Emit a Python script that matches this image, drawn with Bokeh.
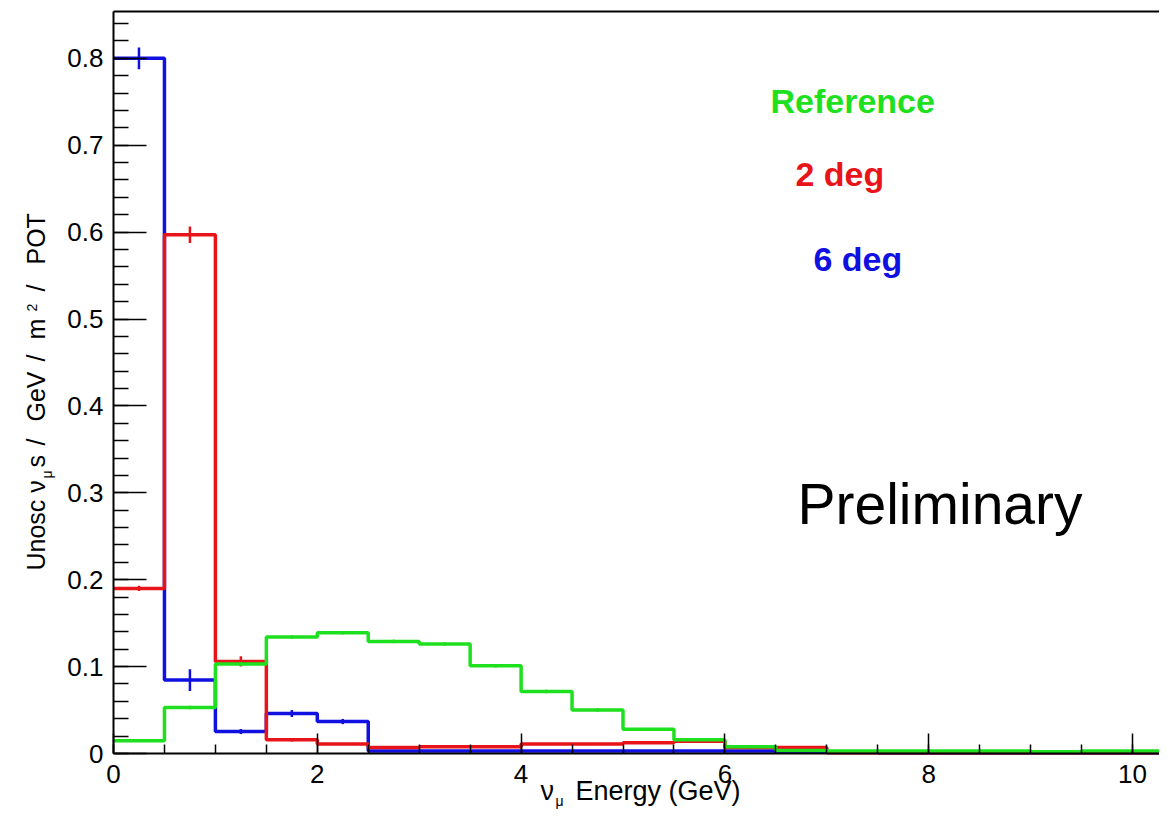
import math
from bokeh.plotting import figure
from bokeh.models import (Range1d, SingleIntervalTicker, FixedTicker, CustomJSTickFormatter,
                          Label, LinearAxis)
from bokeh.embed import file_html
from bokeh.resources import INLINE

# ---------------- data ----------------
bin_width = 0.5
bin_low = [0.0, 0.5, 1.0, 1.5, 2.0, 2.5, 3.0, 3.5, 4.0, 4.5, 5.0,
           5.5, 6.0, 6.5, 7.0, 7.5, 8.0, 8.5, 9.0, 9.5, 10.0]

reference = [0.0146, 0.053, 0.103, 0.134, 0.139, 0.129, 0.126, 0.101, 0.0714, 0.050, 0.028,
             0.0158, 0.0077, 0.0035, 0.003, 0.003, 0.003, 0.003, 0.002, 0.003, 0.003]
reference_err = [0.001, 0.002, 0.002, 0.002, 0.002, 0.002, 0.002, 0.002, 0.002, 0.002, 0.001,
                 0.001, 0.001, 0.0005, 0.0005, 0.0005, 0.0005, 0.0005, 0.0005, 0.0005, 0.0005]

deg2 = [0.190, 0.597, 0.106, 0.0158, 0.011, 0.007, 0.0077, 0.0077, 0.0108, 0.0108, 0.0123,
        0.014, 0.007, 0.007, 0.001, 0.001, 0.001, 0.001, 0.001, 0.001, 0.001]
deg2_err = [0.003, 0.0095, 0.006, 0.002, 0.001, 0.001, 0.001, 0.001, 0.001, 0.001, 0.001,
            0.001, 0.001, 0.001, 0.0005, 0.0005, 0.0005, 0.0005, 0.0005, 0.0005, 0.0005]

deg6 = [0.800, 0.0845, 0.0253, 0.046, 0.0368, 0.003, 0.003, 0.003, 0.003, 0.003, 0.003,
        0.003, 0.003, 0.0015, 0.0015, 0.001, 0.001, 0.001, 0.001, 0.001, 0.001]
deg6_err = [0.0125, 0.0125, 0.003, 0.004, 0.003, 0.0005, 0.0005, 0.0005, 0.0005, 0.0005, 0.0005,
            0.0005, 0.0005, 0.0005, 0.0005, 0.0005, 0.0005, 0.0005, 0.0005, 0.0005, 0.0005]

series_names = ["Reference", "2 deg", "6 deg"]

# ---------------- layout / styling ----------------
C_GREEN = "#1ee01e"
C_RED = "#e8141a"
C_BLUE = "#1010e0"
FONT = "Liberation Sans"

W, H = 1159, 809
ORIG_X, ORIG_Y = 113, 753          # pixel of the (0, 0) corner
PX_X, PX_Y = 101.9, 869.0          # pixels per GeV, pixels per unit
X0 = -ORIG_X / PX_X
X1 = (W - ORIG_X) / PX_X
Y1 = ORIG_Y / PX_Y
Y0 = -(H - ORIG_Y) / PX_Y
Y_TOP = (ORIG_Y - 11) / PX_Y       # top frame line

p = figure(width=W, height=H, output_backend="svg", toolbar_location=None,
           x_range=Range1d(X0, X1), y_range=Range1d(Y0, Y1),
           min_border=0, min_border_left=0, min_border_right=0,
           min_border_top=0, min_border_bottom=0,
           background_fill_color="white", border_fill_color="white")
p.outline_line_color = None
p.xgrid.grid_line_color = None
p.ygrid.grid_line_color = None

for ax in (p.xaxis[0], p.yaxis[0]):
    ax.fixed_location = 0
    ax.axis_line_width = 2
    ax.axis_line_color = "black"
    ax.major_tick_line_color = "black"
    ax.minor_tick_line_color = "black"
    ax.major_tick_line_width = 1.5
    ax.minor_tick_line_width = 1.5
    ax.major_tick_out = 0
    ax.minor_tick_out = 0
    ax.major_label_text_font = FONT
    ax.major_label_text_font_size = "26px"
    ax.major_label_text_color = "black"

p.xaxis.bounds = (0, X1 + 1)
p.xaxis.ticker = SingleIntervalTicker(interval=2, num_minor_ticks=4)
p.xaxis.major_tick_in = 20
p.xaxis.minor_tick_in = 9
p.xaxis.major_label_standoff = 11

p.yaxis.bounds = (0, Y_TOP)
p.yaxis.ticker = SingleIntervalTicker(interval=0.1, num_minor_ticks=5)
p.yaxis.major_tick_in = 33
p.yaxis.minor_tick_in = 15
p.yaxis.major_label_standoff = 10
p.yaxis.formatter = CustomJSTickFormatter(code="return Math.abs(tick) < 1e-9 ? '0' : tick.toFixed(1);")

# top frame line
top_axis = LinearAxis(fixed_location=Y_TOP, bounds=(0, X1 + 1), ticker=FixedTicker(ticks=[]),
                      axis_line_width=2, axis_line_color="black",
                      major_tick_line_color=None, minor_tick_line_color=None,
                      major_label_text_font_size="0px")
p.add_layout(top_axis, "above")


def step_hist(vals, errs, color):
    xs = bin_low + [bin_low[-1] + bin_width]
    ys = vals + [vals[-1]]
    p.step(x=xs, y=ys, mode="after", line_color=color, line_width=3.5)
    centers = [b + bin_width / 2 for b in bin_low]
    lo = [v - e for v, e in zip(vals, errs)]
    hi = [v + e for v, e in zip(vals, errs)]
    p.segment(x0=centers, y0=lo, x1=centers, y1=hi, line_color=color, line_width=2.5)


step_hist(deg6, deg6_err, C_BLUE)
step_hist(deg2, deg2_err, C_RED)
step_hist(reference, reference_err, C_GREEN)


# helpers: picture pixel position -> data coordinate (for placing texts)
def fx(px):
    return (px - ORIG_X) / PX_X


def fy(py):
    return (ORIG_Y - py) / PX_Y


K = 0.42  # baseline correction (fraction of font size)


def add_text(text, px, py, size, color="black", bold=False, rotated=False):
    if rotated:
        px = px - K * size
    else:
        py = py - K * size
    p.add_layout(Label(x=fx(px), y=fy(py), text=text, angle=math.pi / 2 if rotated else 0.0,
                       text_align="left", text_baseline="alphabetic",
                       text_font=FONT, text_font_size=f"{size}px",
                       text_color=color, text_font_style="bold" if bold else "normal"))


# legend-like texts
add_text(series_names[0], 770, 115, 34, C_GREEN, bold=True)
add_text(series_names[1], 795, 188, 34, C_RED, bold=True)
add_text(series_names[2], 813, 273, 34, C_BLUE, bold=True)

# Preliminary
add_text("Preliminary", 797, 527, 57)

# x axis title:  nu_mu Energy (GeV)
add_text("ν", 540, 802, 27)
add_text("μ", 555, 806, 14)
add_text("Energy (GeV)", 575, 802, 27)

# y axis title (rotated):  Unosc nu_mu s / GeV / m^2 / POT
add_text("Unosc ν", 46, 570, 25, rotated=True)
add_text("μ", 52, 478, 14, rotated=True)
add_text("s", 46, 467, 25, rotated=True)
add_text("/", 46, 445, 25, rotated=True)
add_text("GeV", 46, 421, 25, rotated=True)
add_text("/", 46, 361, 25, rotated=True)
add_text("m", 46, 339, 25, rotated=True)
add_text("2", 37, 311, 14, rotated=True)
add_text("/", 46, 291, 25, rotated=True)
add_text("POT", 46, 264, 25, rotated=True)

open("out.html", "w").write(file_html(p, INLINE))
